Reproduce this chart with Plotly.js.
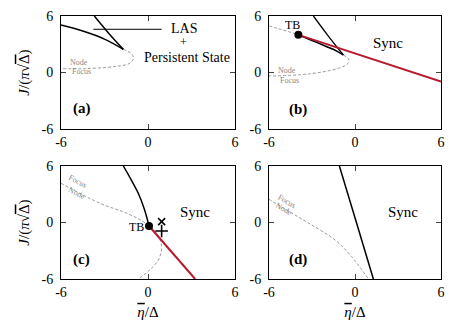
<!DOCTYPE html>
<html><head><meta charset="utf-8">
<script src="https://cdn.plot.ly/plotly-3.0.1.min.js"></script>
<style>body{margin:0;background:#fff}#plot{width:463px;height:323px}</style>
</head><body><div id="plot"></div>
<script>
// ---- data ----
// panel (a)
const aSn1X = [-6, -4.5, -3, -1.7];
const aSn1Y = [5.04, 4.4, 3.55, 2.46];
const aSn2X = [-3.7, -2.7, -1.7];
const aSn2Y = [6, 4.15, 2.46];
const aNfX = [-1.7, -1.15, -1.0, -1.3, -2.39, -4.46, -6];
const aNfY = [2.46, 2.0, 1.5, 0.95, 0.62, 0.4, 0.42];
// panel (b)
const bSnUpX = [-2.9, -1.9, -0.81];
const bSnUpY = [6, 3.95, 1.86];
const bSnLoX = [-3.95, -3.0, -1.97, -1.3, -0.81];
const bSnLoY = [4.0, 3.4, 2.74, 2.3, 1.86];
const bRedX = [-3.95, 6];
const bRedY = [4.0, -0.97];
const bNfX = [-6, -5, -3.95, -2.0, -0.81, -0.45, -0.5, -1.16, -3.26, -6];
const bNfY = [4.94, 4.5, 4.0, 2.75, 1.86, 1.4, 0.95, 0.45, -0.16, -0.37];
const bTB = [-3.95, 4.0];
// panel (c)
const cBlackX = [-1.7, -1.15, -0.67, -0.25, 0.07];
const cBlackY = [6, 4.5, 3.1, 1.4, -0.37];
const cRedX = [0.07, 3.25];
const cRedY = [-0.37, -6];
const cNfX = [-6, -3.31, -1.47, -0.32, 0.6, 0.94, 0.71, 0.14, -0.67];
const cNfY = [4.16, 2.04, 0.98, 0.09, -1.14, -2.57, -3.99, -5.0, -6];
const cTB = [0.07, -0.37];
const cCross = [0.94, 0.1];
const cPlus = [0.94, -0.9];
// panel (d)
const dBlackX = [-1.09, 0.1, 1.28];
const dBlackY = [6, 0, -6];
const dNfX = [-6, -4.3, -3.02, -1.39, -0.23, 0.93];
const dNfY = [2.46, 0.9, -0.26, -1.86, -3.63, -6];
// ticks
const tickVals = [-6, 0, 6];
const tickText = ['-6', '0', '6'];

const RED = '#b8192e';
const GRAY = '#9a9a9a';
const FONT = 'Liberation Serif, Times New Roman, serif';

function line(x, y, xa, ya, color, width, dash, shape) {
  return {x, y, xaxis: xa, yaxis: ya, mode: 'lines', type: 'scatter',
    line: {color, width, dash: dash || 'solid', shape: shape || 'spline'}, hoverinfo: 'skip', showlegend: false};
}
function pt(p, xa, ya, symbol, size, lw) {
  return {x: [p[0]], y: [p[1]], xaxis: xa, yaxis: ya, mode: 'markers', type: 'scatter',
    marker: {symbol, size, color: 'black', line: {color: 'black', width: lw || 0}}, showlegend: false};
}
const DASH = '3px,2px';
const traces = [
  line(aNfX, aNfY, 'x', 'y', GRAY, 1, DASH),
  line(aSn1X, aSn1Y, 'x', 'y', 'black', 1.5),
  line(aSn2X, aSn2Y, 'x', 'y', 'black', 1.5),

  line(bNfX, bNfY, 'x2', 'y2', GRAY, 1, DASH),
  line(bSnUpX, bSnUpY, 'x2', 'y2', 'black', 1.3),
  line(bSnLoX, bSnLoY, 'x2', 'y2', 'black', 1.5),
  line(bRedX, bRedY, 'x2', 'y2', RED, 2, 'solid', 'linear'),
  pt(bTB, 'x2', 'y2', 'circle', 8),

  line(cNfX, cNfY, 'x3', 'y3', GRAY, 1, DASH),
  line(cBlackX, cBlackY, 'x3', 'y3', 'black', 1.5),
  line(cRedX, cRedY, 'x3', 'y3', RED, 2, 'solid', 'linear'),
  pt(cTB, 'x3', 'y3', 'circle', 8),
  pt(cCross, 'x3', 'y3', 'x-thin', 7, 1.6),
  pt(cPlus, 'x3', 'y3', 'cross-thin', 9, 1.6),

  line(dNfX, dNfY, 'x4', 'y4', GRAY, 1, DASH),
  line(dBlackX, dBlackY, 'x4', 'y4', 'black', 1.5),
];

function axis(domain, anchor, title, isY) {
  const a = {domain, anchor, range: [-6, 6], tickvals: tickVals, ticktext: tickText,
    ticks: 'inside', ticklen: 5, tickcolor: '#444', showline: true, linecolor: 'black', linewidth: 1, mirror: 'ticks',
    showgrid: false, zeroline: false, tickfont: {family: FONT, size: 14, color: 'black'}, fixedrange: true,
    ticklabelstandoff: isY ? 4 : 0};
  if (title) a.title = {text: title, font: {family: FONT, size: 15, color: 'black'}, standoff: isY ? 8 : 7};
  return a;
}
const XD1 = [61/463, 235/463], XD2 = [269/463, 441/463];
const YD1 = [1-129/323, 1-16/323], YD2 = [1-279/323, 1-166/323];
const XT = '<span style="text-decoration:overline"><i>η</i></span>/Δ';
const YT = '<i>J</i>/(<i>π</i>√<span style="text-decoration:overline">Δ</span>)';

function ann(text, x, y, xr, yr, size, color, angle, bold) {
  return {text: bold ? '<b>' + text + '</b>' : text, x, y, xref: xr, yref: yr, showarrow: false,
    font: {family: FONT, size, color: color || 'black'}, textangle: angle || 0};
}
const annotations = [
  ann('LAS', 2.48, 4.62, 'x', 'y', 14),
  ann('+', 2.48, 3.2, 'x', 'y', 12),
  ann('Persistent State', 2.67, 1.6, 'x', 'y', 14),
  ann('Node', -4.79, 1.1, 'x', 'y', 8, '#888'),
  ann('Focus', -4.59, 0.12, 'x', 'y', 8, '#888'),
  ann('(a)', -4.57, -3.77, 'x', 'y', 15, 'black', 0, true),

  ann('TB', -4.35, 5.04, 'x2', 'y2', 12),
  ann('Sync', 2.33, 3.17, 'x2', 'y2', 15),
  ann('Node', -4.71, 0.22, 'x2', 'y2', 8, '#888'),
  ann('Focus', -4.6, -0.9, 'x2', 'y2', 8, '#888'),
  ann('(b)', -4.0, -3.9, 'x2', 'y2', 15, 'black', 0, true),

  ann('TB', -0.78, -0.44, 'x3', 'y3', 12),
  ann('Sync', 3.24, 1.15, 'x3', 'y3', 15),
  ann('Focus', -4.83, 4.33, 'x3', 'y3', 8, '#888', 28),
  ann('Node', -4.88, 3.1, 'x3', 'y3', 8, '#888', 28),
  ann('(c)', -4.57, -3.9, 'x3', 'y3', 15, 'black', 0, true),

  ann('Sync', 3.37, 1.15, 'x4', 'y4', 15),
  ann('Focus', -4.76, 2.21, 'x4', 'y4', 8, '#888', 30),
  ann('Node', -4.93, 1.4, 'x4', 'y4', 8, '#888', 30),
  ann('(d)', -4.0, -3.9, 'x4', 'y4', 15, 'black', 0, true),
];
const shapes = [
  {type: 'line', xref: 'x', yref: 'y', x0: -3.77, x1: 0.94, y0: 4.59, y1: 4.59, line: {color: 'black', width: 1}},
];

const layout = {
  width: 463, height: 323, margin: {l: 0, r: 0, t: 0, b: 0},
  paper_bgcolor: 'white', plot_bgcolor: 'white', showlegend: false,
  xaxis: axis(XD1, 'y'), yaxis: axis(YD1, 'x', YT, true),
  xaxis2: axis(XD2, 'y2'), yaxis2: axis(YD1, 'x2', null, true),
  xaxis3: axis(XD1, 'y3', XT), yaxis3: axis(YD2, 'x3', YT, true),
  xaxis4: axis(XD2, 'y4', XT), yaxis4: axis(YD2, 'x4', null, true),
  annotations, shapes,
};
Plotly.newPlot('plot', traces, layout, {staticPlot: true, displayModeBar: false});
</script></body></html>
